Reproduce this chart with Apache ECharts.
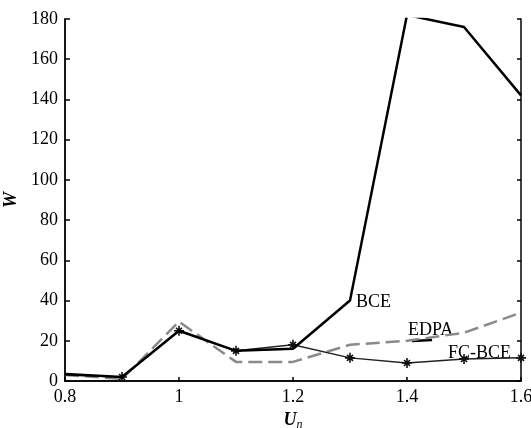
<!DOCTYPE html>
<html><head><meta charset="utf-8">
<script src="https://cdn.jsdelivr.net/npm/echarts@6/dist/echarts.min.js"></script>
<style>html,body{margin:0;padding:0;background:#fff}#c{width:531px;height:428px}</style>
</head><body><div id="c"></div>
<script>
const xs = [0.8, 0.9, 1.0, 1.1, 1.2, 1.3, 1.4, 1.5, 1.6];
const bce = [3.5, 2, 25, 15, 16, 40, 182, 176, 142];
const edpa = [3, 1, 29.5, 9.5, 9.5, 18, 20, 24, 34];
const fcbce = [3, 2, 25, 15, 18, 11.5, 9, 11, 11.5];
const xTicks = ['0.8', '1', '1.2', '1.4', '1.6'];

const font = 'Liberation Serif';
const pair = a => xs.map((x, i) => [x, a[i]]);
const star = 'path://M4.2,0h1.6v10h-1.6z M0,4.2h10v1.6h-10z M1.5,2.6l1.1,-1.1l6,6l-1.1,1.1z M7.4,1.5l1.1,1.1l-6,6l-1.1,-1.1z';

const chart = echarts.init(document.getElementById('c'));
chart.setOption({
  animation: false,
  backgroundColor: '#fff',
  grid: {left: 65, right: 10, top: 19, bottom: 47, outerBoundsMode: 'none', containLabel: false},
  xAxis: [{
    type: 'value', min: 0.8, max: 1.6, interval: 0.2,
    axisLine: {lineStyle: {color: '#000', width: 1.5}},
    axisTick: {inside: true, length: 4, lineStyle: {color: '#000', width: 1.5}},
    splitLine: {show: false},
    axisLabel: {color: '#000', fontFamily: font, fontSize: 18, margin: 7,
      formatter: v => xTicks[Math.round((v - 0.8) / 0.2)]},
    name: '{u|U}{n|n}', nameLocation: 'middle', nameGap: 24,
    nameTextStyle: {rich: {
      u: {fontFamily: font, fontStyle: 'italic', fontWeight: 'bold', fontSize: 18, color: '#000'},
      n: {fontFamily: font, fontStyle: 'italic', fontSize: 12, color: '#000', verticalAlign: 'bottom', padding: [10, 0, 0, 0]}
    }}
  }, {
    type: 'value', position: 'top', min: 0.8, max: 1.6, interval: 0.2,
    axisLine: {show: true, lineStyle: {color: '#000', width: 1.5}},
    axisTick: {show: false}, axisLabel: {show: false}, splitLine: {show: false}
  }],
  yAxis: [{
    type: 'value', min: 0, max: 180, interval: 20,
    axisLine: {show: true, lineStyle: {color: '#000', width: 1.8}},
    axisTick: {inside: true, length: 5, lineStyle: {color: '#000', width: 1.5}},
    splitLine: {show: false},
    axisLabel: {color: '#000', fontFamily: font, fontSize: 18, margin: 7},
    name: 'W', nameLocation: 'middle', nameGap: 42,
    nameTextStyle: {fontFamily: font, fontStyle: 'italic', fontWeight: 'bold', fontSize: 18, color: '#000'}
  }, {
    type: 'value', position: 'right', min: 0, max: 180, interval: 20,
    axisLine: {show: true, lineStyle: {color: '#000', width: 1.5}},
    axisTick: {show: true, inside: true, length: 4, lineStyle: {color: '#000', width: 1.5}},
    axisLabel: {show: false}, splitLine: {show: false}
  }],
  series: [
    {name: 'EDPA', type: 'line', data: pair(edpa), symbol: 'none',
      lineStyle: {color: '#8a8a8a', width: 2.5, type: [14, 6]}, z: 2},
    {name: 'FC-BCE', type: 'line',
      data: pair(fcbce).map((p, i) => i === 0 ? {value: p, symbol: 'none'} : p),
      symbol: star, symbolSize: 10, showSymbol: true, itemStyle: {color: '#111'},
      lineStyle: {color: '#222', width: 1.5}, z: 3},
    {name: 'BCE', type: 'line', data: pair(bce), symbol: 'none', clip: true,
      lineStyle: {color: '#000', width: 2.5}, z: 4}
  ],
  graphic: [
    {type: 'text', left: 356, top: 293, style: {text: 'BCE', fontFamily: font, fontSize: 18, fill: '#000'}},
    {type: 'text', left: 408, top: 321, style: {text: 'EDPA', fontFamily: font, fontSize: 18, fill: '#000'}},
    {type: 'text', left: 448, top: 344, style: {text: 'FC-BCE', fontFamily: font, fontSize: 18, fill: '#000'}},
    {type: 'line', shape: {x1: 412, y1: 341, x2: 432, y2: 340}, style: {stroke: '#000', lineWidth: 2.5}}
  ]
});
</script></body></html>
